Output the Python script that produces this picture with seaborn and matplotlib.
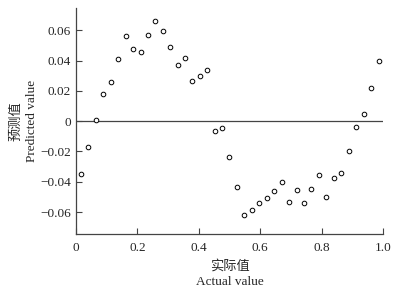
import matplotlib
matplotlib.use('Agg')
import matplotlib.pyplot as plt
import pandas as pd
import seaborn as sns

# values
actual = [0.015, 0.040, 0.064, 0.089, 0.113, 0.137, 0.162, 0.186, 0.211, 0.235,
          0.258, 0.282, 0.307, 0.331, 0.355, 0.379, 0.404, 0.428, 0.453, 0.477,
          0.500, 0.525, 0.548, 0.573, 0.597, 0.621, 0.646, 0.670, 0.694, 0.719,
          0.743, 0.767, 0.792, 0.815, 0.840, 0.864, 0.888, 0.913, 0.937, 0.962,
          0.986]
predicted = [-0.0350, -0.0168, 0.0009, 0.0178, 0.0262, 0.0414, 0.0566, 0.0478, 0.0460, 0.0570,
             0.0663, 0.0595, 0.0489, 0.0370, 0.0418, 0.0264, 0.0297, 0.0337, -0.0064, -0.0044,
             -0.0234, -0.0436, -0.0617, -0.0586, -0.0542, -0.0505, -0.0463, -0.0403, -0.0533, -0.0456,
             -0.0542, -0.0447, -0.0353, -0.0500, -0.0377, -0.0342, -0.0196, -0.0038, 0.0046, 0.0218,
             0.0397]
xticks = [0, 0.2, 0.4, 0.6, 0.8, 1.0]
xtick_labels = ['0', '0.2', '0.4', '0.6', '0.8', '1.0']
yticks = [-0.06, -0.04, -0.02, 0, 0.02, 0.04, 0.06]
ytick_labels = ['\u22120.06', '\u22120.04', '\u22120.02', '0', '0.02', '0.04', '0.06']

df = pd.DataFrame({'actual': actual, 'predicted': predicted})

sns.set_style('ticks')
plt.rcParams['font.family'] = ['Liberation Serif', 'Noto Sans CJK SC']
plt.rcParams['axes.unicode_minus'] = True

fig = plt.figure(figsize=(3.97, 2.93), dpi=100)
ax = fig.add_axes([0.1914, 0.2014, 0.7733, 0.7713])

ax.axhline(0, color='#444444', lw=0.9, zorder=1)
sns.scatterplot(data=df, x='actual', y='predicted', ax=ax, marker='o', s=11,
                facecolor='white', edgecolor='black', linewidth=0.7, zorder=3)

ax.set_xlim(0, 1.0)
ax.set_ylim(-0.0745, 0.0748)
ax.set_xticks(xticks)
ax.set_xticklabels(xtick_labels)
ax.set_yticks(yticks)
ax.set_yticklabels(ytick_labels)
ax.tick_params(direction='in', length=4, width=0.8, color='#444444', labelsize=9.5)
ax.tick_params(axis='x', pad=6)
ax.tick_params(axis='y', pad=3.5)

sns.despine(ax=ax)
for side in ['left', 'bottom']:
    ax.spines[side].set_color('#444444')
    ax.spines[side].set_linewidth(0.9)

ax.set_xlabel('实际值\nActual value', fontsize=9.5, linespacing=1.35, labelpad=4)
ax.set_ylabel('预测值\nPredicted value', fontsize=9.5, linespacing=1.35, labelpad=2)

fig.savefig('out.png', dpi=100)
